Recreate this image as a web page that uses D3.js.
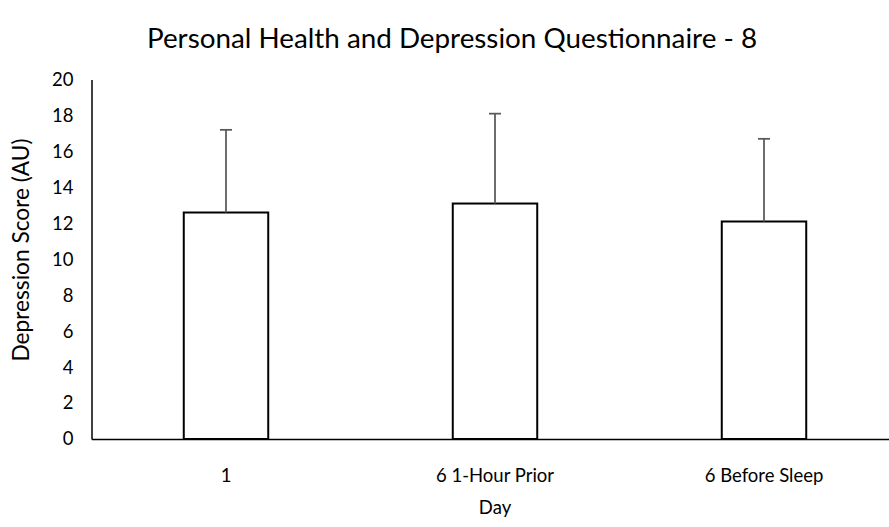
<!DOCTYPE html>
<html>
<head>
<meta charset="utf-8">
<script src="https://cdn.jsdelivr.net/npm/d3@7"></script>
<style>
  html, body { margin: 0; padding: 0; background: #fff; }
  svg { display: block; }
  text { font-family: Lato, "Open Sans", sans-serif; fill: #000; }
</style>
</head>
<body>
<svg id="chart" width="889" height="527"></svg>
<script>
// Mean PHQ-8 depression score per day, with standard deviation
const categories = ["1", "6 1-Hour Prior", "6 Before Sleep"];
const means = [12.6, 13.1, 12.1];
const errors = [4.6, 5.0, 4.6];
const yTicks = [0, 2, 4, 6, 8, 10, 12, 14, 16, 18, 20];

const svg = d3.select("#chart");
const plotLeft = 91.5, plotRight = 898.5, plotTop = 79.5, plotBottom = 439;

const x = d3.scaleBand().domain(categories).range([plotLeft, plotRight]).paddingInner(0.686).paddingOuter(0.343);
const y = d3.scaleLinear().domain([0, 20]).range([plotBottom, plotTop]);

// Title
svg.append("text")
  .attr("x", 452).attr("y", 48)
  .attr("text-anchor", "middle")
  .style("font-size", "27.8px")
  .text("Personal Health and Depression Questionnaire - 8");

// Y axis labels (no tick marks)
const yAxis = d3.axisLeft(y).tickValues(yTicks).tickSize(0).tickPadding(18);
const gy = svg.append("g").attr("transform", `translate(${plotLeft},0)`).call(yAxis);
gy.select(".domain").attr("stroke", "#000").attr("stroke-width", 1.5);
gy.selectAll("text").style("font-size", "18.5px").attr("font-family", null);

// Bars
const data = categories.map((c, i) => ({ c, m: means[i], e: errors[i] }));
svg.append("g").selectAll("rect").data(data).join("rect")
  .attr("x", d => x(d.c))
  .attr("y", d => y(d.m))
  .attr("width", x.bandwidth())
  .attr("height", d => y(0) - y(d.m))
  .attr("fill", "#fff")
  .attr("stroke", "#000")
  .attr("stroke-width", 2);

// Error bars (upper only)
const eb = svg.append("g").attr("stroke", "#595959").attr("stroke-width", 1.75);
eb.selectAll("line.stem").data(data).join("line").attr("class", "stem")
  .attr("x1", d => x(d.c) + x.bandwidth() / 2)
  .attr("x2", d => x(d.c) + x.bandwidth() / 2)
  .attr("y1", d => y(d.m))
  .attr("y2", d => y(d.m + d.e));
eb.selectAll("line.cap").data(data).join("line").attr("class", "cap")
  .attr("x1", d => x(d.c) + x.bandwidth() / 2 - 6)
  .attr("x2", d => x(d.c) + x.bandwidth() / 2 + 6)
  .attr("y1", d => y(d.m + d.e))
  .attr("y2", d => y(d.m + d.e));

// X axis
const xAxis = d3.axisBottom(x).tickSize(0).tickPadding(30);
const gx = svg.append("g").attr("transform", `translate(0,${plotBottom})`).call(xAxis);
gx.select(".domain").attr("stroke", "#000").attr("stroke-width", 1.5);
gx.selectAll("text").style("font-size", "18.5px").attr("font-family", null);

// Axis titles
svg.append("text")
  .attr("x", 495).attr("y", 514)
  .attr("text-anchor", "middle")
  .style("font-size", "18.5px")
  .text("Day");
svg.append("text")
  .attr("transform", "translate(28.5,250) rotate(-90)")
  .attr("text-anchor", "middle")
  .style("font-size", "22.7px")
  .text("Depression Score (AU)");
</script>
</body>
</html>
